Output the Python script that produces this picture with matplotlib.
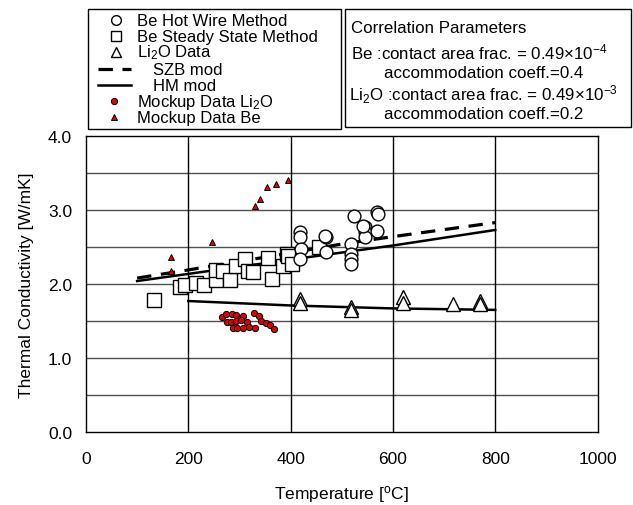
import numpy as np
import matplotlib
matplotlib.use('Agg')
from matplotlib import pyplot as plt
from matplotlib.patches import Rectangle

plt.rcParams['font.family'] = ['Liberation Sans', 'DejaVu Sans']
plt.rcParams['mathtext.default'] = 'regular'

## ======================= data =======================
# Be hot wire method (open circles)
hw_T = [418, 418, 421, 418, 469, 469, 467, 519, 519, 519, 519, 524, 545, 545, 545, 541, 569, 569, 571]
hw_k = [2.70, 2.63, 2.47, 2.34, 2.63, 2.43, 2.65, 2.54, 2.41, 2.34, 2.27, 2.92, 2.77, 2.70, 2.63, 2.79, 2.97, 2.72, 2.95]

# Be steady state method (open squares)
ss_T = [132, 184, 194, 216, 231, 255, 255, 268, 281, 294, 311, 317, 327, 356, 363, 386, 392, 395, 402, 456]
ss_k = [1.78, 1.96, 1.98, 2.02, 1.99, 2.05, 2.19, 2.18, 2.06, 2.25, 2.34, 2.18, 2.16, 2.35, 2.07, 2.25, 2.41, 2.38, 2.27, 2.50]

# Li2O data (open triangles)
li_T = [418, 418, 519, 519, 619, 619, 718, 770, 770]
li_k = [1.80, 1.74, 1.69, 1.65, 1.82, 1.75, 1.73, 1.77, 1.73]

# SZB mod (dashed) and HM mod (solid) for Be
szb_T = [100, 200, 400, 500, 600, 800]
szb_k = [2.08, 2.19, 2.42, 2.54, 2.64, 2.83]
hm_be_T = [100, 400, 600, 800]
hm_be_k = [2.04, 2.33, 2.52, 2.73]

# HM mod for Li2O
hm_li_T = [200, 400, 600, 800]
hm_li_k = [1.77, 1.71, 1.67, 1.65]

# Mockup data Li2O (red circles)
mli_T = [265, 274, 285, 294, 306, 275, 283, 293, 304, 315, 288, 296, 306, 318, 330, 328, 339, 342, 351, 360, 368]
mli_k = [1.56, 1.60, 1.60, 1.58, 1.57, 1.48, 1.48, 1.50, 1.51, 1.48, 1.41, 1.41, 1.41, 1.42, 1.40, 1.61, 1.57, 1.50, 1.47, 1.45, 1.39]

# Mockup data Be (red triangles)
mbe_T = [167, 167, 246, 330, 341, 354, 371, 395]
mbe_k = [2.18, 2.36, 2.57, 3.05, 3.15, 3.31, 3.35, 3.41]

x_ticks = [0, 200, 400, 600, 800, 1000]
y_ticks = [0.0, 1.0, 2.0, 3.0, 4.0]

W, H = 633, 506
fig = plt.figure(figsize=(W/100, H/100), dpi=100)
ax = fig.add_axes([86/W, 1-433/H, (597.5-86)/W, (433-137)/H])

## grid
for yv in np.arange(0.5, 4.0, 0.5):
    ax.axhline(yv, color='#505050', lw=1.0, zorder=0)
for xv in x_ticks[1:-1]:
    ax.axvline(xv, color='k', lw=1.0, zorder=0)

## model lines
ax.plot(szb_T, szb_k, color='k', lw=2.3, dashes=(4.5, 3.0), zorder=1)
ax.plot(hm_be_T, hm_be_k, color='k', lw=1.8, zorder=1)
ax.plot(hm_li_T, hm_li_k, color='k', lw=1.8, zorder=1)

## measured data
ax.plot(ss_T, ss_k, 's', ms=9.5, mfc='white', mec='k', mew=1.0, zorder=3)
ax.plot(hw_T, hw_k, 'o', ms=9.2, mfc='white', mec='k', mew=1.0, zorder=3)
ax.plot(li_T, li_k, '^', ms=10, mfc='white', mec='k', mew=1.0, zorder=3)
ax.plot(mli_T, mli_k, 'o', ms=4.5, mfc='#e00000', mec='k', mew=0.7, zorder=4)
ax.plot(mbe_T, mbe_k, '^', ms=5, mfc='#e00000', mec='k', mew=0.7, zorder=4)

ax.set_xlim(0, 1000)
ax.set_ylim(0, 4.0)
ax.set_xticks(x_ticks)
ax.set_yticks(y_ticks)
ax.set_yticklabels(['%.1f' % v for v in y_ticks])
ax.tick_params(length=0, labelsize=12.5)
ax.tick_params(axis='x', pad=14)
ax.tick_params(axis='y', pad=10)
for sp in ax.spines.values():
    sp.set_linewidth(1.0)
ax.set_xlabel('Temperature [$^{o}$C]', fontsize=12.5, labelpad=12)
ax.set_ylabel('Thermal Conductivity [W/mK]', fontsize=12.5, labelpad=10)

## hand made legend boxes (pixel coordinates)
ov = fig.add_axes([0, 0, 1, 1], zorder=5)
ov.set_xlim(0, W)
ov.set_ylim(H, 0)
ov.axis('off')

ov.add_patch(Rectangle((88, 10), 253, 120, fill=False, ec='k', lw=1.0))
ov.add_patch(Rectangle((345, 10), 286, 118, fill=False, ec='k', lw=1.0))

fs = 12
rows = [21, 37, 53, 70, 86, 102, 118]
ov.plot(115.5, rows[0], 'o', ms=7, mfc='white', mec='k', mew=1.0)
ov.plot(115.5, rows[1], 's', ms=7, mfc='white', mec='k', mew=1.0)
ov.plot(115.5, rows[2], '^', ms=7.5, mfc='white', mec='k', mew=1.0)
ov.plot([98, 131], [rows[3], rows[3]], color='k', lw=2.3, dashes=(4.5, 3.0))
ov.plot([98, 131], [rows[4], rows[4]], color='k', lw=1.8)
ov.plot(114, rows[5], 'o', ms=4.5, mfc='#e00000', mec='k', mew=0.7)
ov.plot(114, rows[6], '^', ms=5, mfc='#e00000', mec='k', mew=0.7)

labels = ['Be Hot Wire Method', 'Be Steady State Method', 'Li$_2$O Data',
          'SZB mod', 'HM mod', 'Mockup Data Li$_2$O', 'Mockup Data Be']
xs = [137, 137, 137, 153, 153, 137, 137]
for lab, xx, yy in zip(labels, xs, rows):
    ov.text(xx, yy, lab, fontsize=fs, va='center', ha='left')

corr = ['Correlation Parameters',
        'Be :contact area frac. = 0.49×10$^{-4}$',
        'accommodation coeff.=0.4',
        'Li$_2$O :contact area frac. = 0.49×10$^{-3}$',
        'accommodation coeff.=0.2']
cx = [351, 351, 384, 349, 384]
cy = [28, 52, 73, 95, 114]
for lab, xx, yy in zip(corr, cx, cy):
    ov.text(xx, yy, lab, fontsize=12.2, va='center', ha='left')

fig.savefig('out.png', dpi=100)
